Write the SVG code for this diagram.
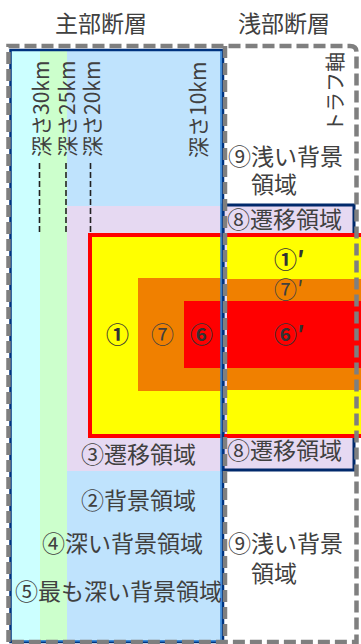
<svg xmlns="http://www.w3.org/2000/svg" width="361" height="644" viewBox="0 0 361 644">
<style>
text{font-family:"Noto Sans CJK JP","Noto Sans",sans-serif;fill:#404040;font-size:23px}
.b{font-weight:bold;fill:#333333}
.gd{fill:none;stroke:#7f7f7f;stroke-width:4.5;stroke-dasharray:12 5}
.kd{fill:none;stroke:#222222;stroke-width:1.6;stroke-dasharray:6 3}
.vt{font-size:21px}
</style>
<rect width="361" height="644" fill="#ffffff"/>
<g id="main-fault">
<rect x="11" y="50" width="211" height="593" fill="#bfe3fd"/>
<rect x="11" y="50" width="29" height="593" fill="#ccffff"/>
<rect x="40" y="50" width="27" height="593" fill="#ccffcc"/>
</g>
<g id="region3">
<rect x="67" y="206" width="154" height="265" fill="#e6d9f2"/>
</g>
<g id="region8">
<rect x="223" y="205" width="131" height="265" fill="#e6d9f2" stroke="#00296b" stroke-width="3"/>
</g>
<g id="region1">
<rect x="90" y="235" width="131" height="201" fill="#ffff00"/>
<rect x="227" y="235" width="140" height="201" fill="#ffff00"/>
<rect x="90" y="235" width="280" height="201" fill="none" stroke="#ff0000" stroke-width="4"/>
</g>
<g id="region7">
<rect x="138" y="278" width="83" height="113" fill="#f08000"/>
<rect x="227" y="279" width="140" height="111" fill="#f08000"/>
</g>
<g id="region6">
<rect x="184" y="301" width="37" height="67" fill="#ff0000"/>
<rect x="227" y="301" width="140" height="67" fill="#ff0000"/>
</g>
<g id="main-border">
<rect x="10.5" y="50" width="212.5" height="592" fill="none" stroke="#00337f" stroke-width="2.5"/>
<line x1="221" y1="51" x2="221" y2="641" stroke="#2a7fd4" stroke-width="1.5"/>
<line x1="12" y1="641" x2="221" y2="641" stroke="#2a7fd4" stroke-width="1.5"/>
</g>
<g id="connectors">
<path class="gd" d="M8.5 642 V46 H350 Q356.5 46 356.5 52 V642 H8.5"/>
<line class="gd" x1="225" y1="46" x2="225" y2="642"/>
<line class="kd" x1="39.5" y1="163" x2="39.5" y2="233"/>
<line class="kd" x1="66" y1="163" x2="66" y2="233"/>
<line class="kd" x1="90.5" y1="163" x2="90.5" y2="233"/>
</g>
<g id="labels">
<text x="101" y="32" text-anchor="middle">主部断層</text>
<text x="284" y="32" text-anchor="middle">浅部断層</text>
<text class="vt" transform="translate(48.5,157) rotate(-90)">深さ30km</text>
<text class="vt" transform="translate(74.5,157) rotate(-90)">深さ25km</text>
<text class="vt" transform="translate(100,157) rotate(-90)">深さ20km</text>
<text class="vt" transform="translate(206,158) rotate(-90)">深さ10km</text>
<text transform="translate(343,132) rotate(-90)" style="font-size:20px">トラフ軸</text>
<text x="228" y="165">⑨浅い背景<tspan x="251" y="193">領域</tspan></text>
<text x="227" y="228">⑧遷移領域</text>
<text x="227" y="459">⑧遷移領域</text>
<text x="81" y="463">③遷移領域</text>
<text x="81" y="509">②背景領域</text>
<text x="42" y="552">④深い背景領域</text>
<text x="15" y="600">⑤最も深い背景領域</text>
<text x="228" y="552">⑨浅い背景<tspan x="251" y="582">領域</tspan></text>
<text class="b" x="106" y="343">①</text>
<text x="151" y="343">⑦</text>
<text class="b" x="190" y="343">⑥</text>
<text class="b" x="274" y="268">①′</text>
<text x="274" y="298">⑦′</text>
<text class="b" x="274" y="343">⑥′</text>
</g>
</svg>
